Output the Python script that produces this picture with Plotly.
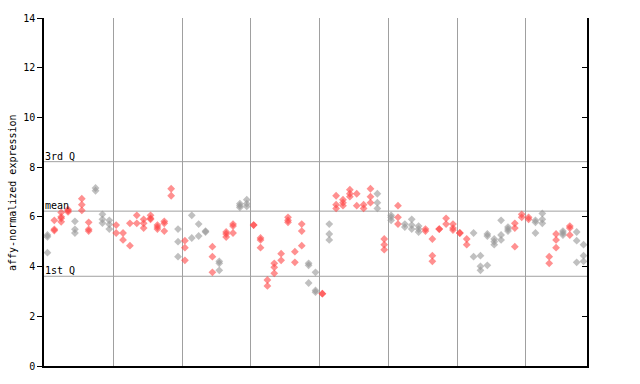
import plotly.graph_objects as go

# replicate values for each sample column (left to right)
values = [
    [5.27, 5.2, 4.56], [5.86, 5.5, 5.45], [6.18, 6.0, 5.8, 5.94], [6.3, 6.2, 6.25],
    [5.82, 5.5, 5.35], [6.73, 6.49, 6.26], [5.78, 5.5, 5.43], [7.16, 7.05],
    [6.1, 5.9, 5.75], [5.86, 5.7, 5.51], [5.67, 5.35], [5.35, 5.07],
    [5.74, 4.84], [6.06, 5.74], [5.9, 5.74, 5.55], [6.06, 5.94, 5.9],
    [5.67, 5.59, 5.51], [5.82, 5.74, 5.43], [7.13, 6.85], [5.51, 5.0, 4.4],
    [5.04, 4.76, 4.25], [6.06, 5.15], [5.71, 5.23], [5.43, 5.39],
    [4.8, 4.4, 3.77], [4.21, 4.13, 3.85], [5.39, 5.31, 5.19], [5.71, 5.63, 5.35],
    [6.53, 6.45, 6.38], [6.69, 6.53, 6.42], [5.67, 5.67], [5.15, 5.07, 4.76],
    [3.46, 3.22], [4.13, 3.97, 3.73], [4.52, 4.25], [5.98, 5.86, 5.78],
    [4.6, 4.17], [5.71, 5.43, 4.84], [4.13, 4.05, 3.34], [3.77, 3.04, 2.97],
    [2.91, 2.91], [5.71, 5.31, 5.07], [6.85, 6.49, 6.34], [6.69, 6.57, 6.45],
    [7.09, 6.93, 6.81], [6.93, 6.45], [6.49, 6.34], [7.13, 6.81, 6.57],
    [6.93, 6.57, 6.34], [5.11, 4.88, 4.68], [6.06, 5.98, 5.86], [6.45, 5.98, 5.71],
    [5.71, 5.59], [5.9, 5.67, 5.51], [5.63, 5.51, 5.39], [5.51, 5.43],
    [5.11, 4.44, 4.21], [5.51, 5.51], [5.94, 5.71], [5.71, 5.55, 5.47],
    [5.35, 5.35], [5.11, 4.88], [5.35, 4.4], [4.44, 4.01, 3.85],
    [5.31, 5.23, 4.05], [5.11, 5.0, 4.88], [5.86, 5.27, 5.07], [5.59, 5.51, 5.43],
    [5.74, 5.55, 4.8], [6.1, 5.98], [5.98, 5.9], [5.86, 5.78, 5.35],
    [6.14, 5.9, 5.74], [4.4, 4.13], [5.31, 5.07, 4.76], [5.43, 5.35, 5.27],
    [5.63, 5.55, 5.27], [5.39, 5.04, 4.17], [4.88, 4.44, 4.21],
]
# colour group of each column: "r" red, "g" grey
groups = list(
    "grrrgrrggg" "rrrrrrrrrg" "rgggrgrrgg" "rrrrrrrrgg"
    "rgrrrrrrgr" "grgggrrrrr" "rrggggggrr" "rggrrgrgg"
)
stats = {"3rd Q": 8.22, "mean": 6.23, "1st Q": 3.61}
y_ticks = [0, 2, 4, 6, 8, 10, 12, 14]

colors = {"r": "rgba(255,70,70,0.6)", "g": "rgba(150,150,150,0.6)"}

fig = go.Figure()
for key in ["g", "r"]:
    xs, ys = [], []
    for i, (vals, g) in enumerate(zip(values, groups)):
        if g == key:
            xs += [i] * len(vals)
            ys += vals
    fig.add_trace(go.Scatter(
        x=xs, y=ys, mode="markers", showlegend=False,
        marker=dict(symbol="diamond", size=6, color=colors[key], line=dict(width=0)),
    ))

n = len(values)
for name, v in stats.items():
    fig.add_shape(type="line", xref="paper", yref="y", x0=0, x1=1, y0=v, y1=v,
                  line=dict(color="#a0a0a0", width=1), layer="below")
    fig.add_annotation(x=0, xref="paper", y=v, yref="y", text=name, showarrow=False,
                       xanchor="left", yanchor="bottom", yshift=-2, xshift=-1,
                       font=dict(family="DejaVu Sans Mono", size=10, color="black"))

fig.add_annotation(x=-0.059, xref="paper", y=0.5, yref="paper", xanchor="center",
                   yanchor="middle", text="affy-normalized expression", textangle=-90,
                   showarrow=False,
                   font=dict(family="DejaVu Sans Mono", size=10, color="black"))

fig.update_layout(
    width=640, height=384,
    margin=dict(l=44, r=53, t=14, b=15),
    plot_bgcolor="white", paper_bgcolor="white",
    xaxis=dict(range=[-0.5, n - 0.5], showticklabels=False, ticks="",
               tickvals=[9.6 + 10 * k for k in range(7)], showgrid=True,
               gridcolor="#a0a0a0", gridwidth=1, zeroline=False,
               showline=True, linecolor="black", linewidth=1.5),
    yaxis=dict(range=[0, 14], tickvals=y_ticks, ticks="outside", ticklen=5,
               tickcolor="black", showgrid=False, zeroline=False,
               showline=True, linecolor="black", linewidth=1.5,
               tickfont=dict(family="DejaVu Sans Mono", size=10, color="black")),
    yaxis2=dict(range=[0, 14], tickvals=y_ticks, overlaying="y", side="right",
                ticks="inside", ticklen=5, tickcolor="black", showticklabels=False,
                showgrid=False, zeroline=False, showline=True, linecolor="black",
                linewidth=1.5),
)
fig.add_trace(go.Scatter(x=[None], y=[None], yaxis="y2", showlegend=False))
fig.write_html("out.html")
